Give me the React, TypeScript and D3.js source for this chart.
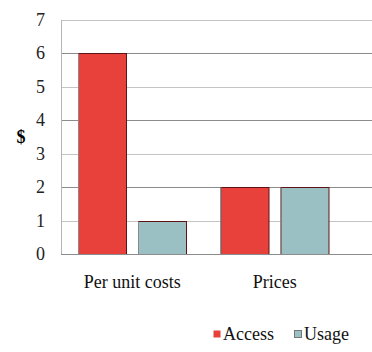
import * as d3 from "d3";
import { useEffect, useRef } from "react";

const categories = ["Per unit costs", "Prices"];
const seriesNames = ["Access", "Usage"];
const accessValues = [6, 2];
const usageValues = [1, 2];
const yTicks = [0, 1, 2, 3, 4, 5, 6, 7];

const COLORS: Record<string, string> = { Access: "#e8403a", Usage: "#9bc0c3" };
const FONT = "Liberation Serif";

export default function App() {
	const svgRef = useRef<SVGSVGElement>(null);

	useEffect(() => {
		if (!svgRef.current) return;
		const width = 372;
		const height = 352;
		const svg = d3.select(svgRef.current);
		svg.selectAll("*").remove();
		svg.attr("width", width).attr("height", height);

		const left = 61;
		const plotRight = 346;
		const top = 19.5;
		const bottom = 254;

		const y = d3.scaleLinear().domain([0, 7]).range([bottom, top]);
		const x0 = d3.scaleBand<string>().domain(categories).range([left, plotRight]).paddingInner(0).paddingOuter(0);
		const x1 = d3.scaleBand<string>().domain(seriesNames).range([0, x0.bandwidth()]).paddingInner(0.208).paddingOuter(0.29);

		// gridlines
		svg
			.append("g")
			.selectAll("line")
			.data(yTicks.filter((t) => t > 0))
			.enter()
			.append("line")
			.attr("x1", left)
			.attr("x2", width)
			.attr("y1", (d) => Math.round(y(d)) + 0.5)
			.attr("y2", (d) => Math.round(y(d)) + 0.5)
			.attr("stroke", (d) => (d % 2 === 0 ? "#8c8c8c" : "#c4c4c4"))
			.attr("stroke-width", 1);

		// bars
		const rows = categories.map((c, i) => ({ cat: c, vals: [accessValues[i], usageValues[i]] }));
		const groups = svg
			.append("g")
			.selectAll("g")
			.data(rows)
			.enter()
			.append("g")
			.attr("transform", (d) => `translate(${x0(d.cat)},0)`);

		const bars = groups
			.selectAll("g")
			.data((d) => d.vals.map((v, j) => ({ name: seriesNames[j], v })))
			.enter()
			.append("g");

		bars
			.append("rect")
			.attr("x", (d) => Math.round(x1(d.name)!) + 0.5)
			.attr("y", (d) => Math.round(y(d.v)) + 0.5)
			.attr("width", Math.round(x1.bandwidth()))
			.attr("height", (d) => Math.round(y(0)) - Math.round(y(d.v)))
			.attr("fill", (d) => COLORS[d.name])
			.attr("stroke", "#5e1414")
			.attr("stroke-width", 1);

		bars
			.append("line")
			.attr("x1", (d) => Math.round(x1(d.name)!) + 0.5)
			.attr("x2", (d) => Math.round(x1(d.name)!) + 0.5)
			.attr("y1", (d) => Math.round(y(d.v)) + 0.5)
			.attr("y2", Math.round(y(0)) + 0.5)
			.attr("stroke", "#8a8a8a");

		// axes lines
		svg
			.append("line")
			.attr("x1", left + 0.5)
			.attr("x2", left + 0.5)
			.attr("y1", Math.round(y(7)) + 0.5)
			.attr("y2", Math.round(y(0)) + 0.5)
			.attr("stroke", "#b5b5b5");
		svg
			.append("line")
			.attr("x1", left)
			.attr("x2", width)
			.attr("y1", Math.round(y(0)) + 0.5)
			.attr("y2", Math.round(y(0)) + 0.5)
			.attr("stroke", "#8c8c8c");

		// y tick labels
		svg
			.append("g")
			.selectAll("text")
			.data(yTicks)
			.enter()
			.append("text")
			.attr("x", 45)
			.attr("y", (d) => y(d))
			.attr("dy", "0.35em")
			.attr("text-anchor", "end")
			.attr("font-family", FONT)
			.attr("font-size", 18)
			.attr("fill", "#222")
			.text((d) => d);

		svg
			.append("text")
			.attr("x", 21)
			.attr("y", 137)
			.attr("dy", "0.35em")
			.attr("text-anchor", "middle")
			.attr("font-family", FONT)
			.attr("font-size", 18)
			.attr("font-weight", "bold")
			.text("$");

		// x labels
		svg
			.append("g")
			.selectAll("text")
			.data(categories)
			.enter()
			.append("text")
			.attr("x", (d) => x0(d)! + x0.bandwidth() / 2)
			.attr("y", 288)
			.attr("text-anchor", "middle")
			.attr("font-family", FONT)
			.attr("font-size", 18)
			.attr("fill", "#111")
			.text((d) => d);

		// legend
		const legendX = [213, 294];
		const legend = svg
			.append("g")
			.selectAll("g")
			.data(seriesNames)
			.enter()
			.append("g")
			.attr("transform", (_, i) => `translate(${legendX[i]},330)`);
		legend
			.append("rect")
			.attr("x", 0.5)
			.attr("y", 0.5)
			.attr("width", 7)
			.attr("height", 7)
			.attr("fill", (d) => COLORS[d])
			.attr("stroke", (d) => (d === "Access" ? "none" : "#777"));
		legend
			.append("text")
			.attr("x", 10)
			.attr("y", 10)
			.attr("font-family", FONT)
			.attr("font-size", 18)
			.attr("fill", "#111")
			.text((d) => d);
	}, []);

	return (
		<div style={{ position: "fixed", left: 0, top: 0, background: "#fff" }}>
			<svg ref={svgRef} style={{ display: "block", fontFamily: "Liberation Serif" }} />
		</div>
	);
}
